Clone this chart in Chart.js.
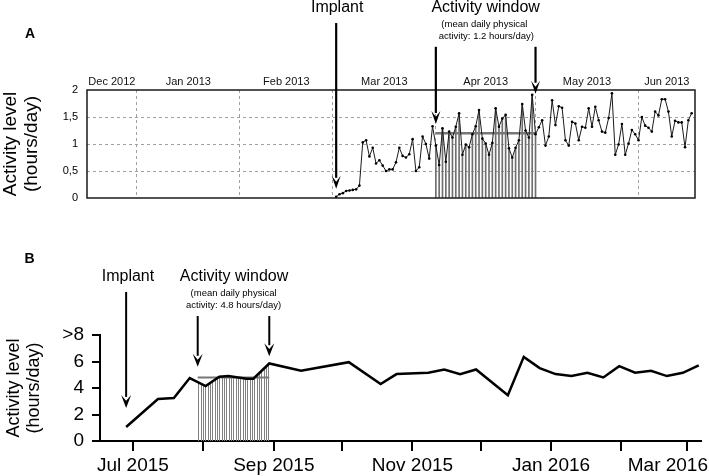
<!DOCTYPE html>
<html>
<head>
<meta charset="utf-8">
<script src="https://cdn.jsdelivr.net/npm/chart.js@4.4.1/dist/chart.umd.min.js"></script>
<style>
  html, body { margin: 0; padding: 0; background: #fff; }
  #wrap { position: relative; width: 709px; height: 476px; overflow: hidden; }
  canvas { position: absolute; left: 0; }
</style>
</head>
<body>
<div id="wrap">
  <canvas id="chartA" width="709" height="215" style="top:0"></canvas>
  <canvas id="chartB" width="709" height="261" style="top:215px"></canvas>
</div>
<script>
// ---------------- Panel A data (x = days from 1 Jan 2013) ----------------
const startDayA = 60;            // 2 Mar 2013 (implant)
const valuesA = [
  0.02, 0.07, 0.09, 0.13, 0.14, 0.15, 0.16, 0.23,
  1.03, 1.07, 0.77, 0.93, 0.64, 0.70, 0.60, 0.50, 0.53, 0.53,
  0.66, 0.93, 0.78, 0.75, 0.81, 1.09, 0.50, 0.57,
  1.14, 1.00, 0.73, 1.33,
  0.97, 0.61, 1.29, 0.67, 1.23, 1.12, 1.32, 1.57, 0.80, 0.99,
  0.94, 1.18, 1.33, 1.63, 1.10, 1.01, 0.80, 1.02, 1.66, 1.32,
  1.47, 1.54, 0.92, 0.75, 0.93, 1.07, 1.74, 1.25, 1.12, 1.91,
  1.18, 1.31, 1.44, 0.97, 1.14, 1.81, 1.35, 1.70, 1.67, 1.07,
  0.97, 1.41, 1.38, 1.07, 1.32, 1.30, 1.66, 1.32, 1.69, 1.44,
  1.23, 1.21, 1.48, 1.94, 0.80, 0.99, 1.37, 0.80, 1.01, 1.26,
  1.18, 1.07, 1.50, 1.34, 1.30, 1.23, 1.60, 1.53, 1.83, 1.83,
  1.60, 1.14, 1.43, 1.40, 1.40, 0.94, 1.44, 1.57
];
const windowA = [90, 120];       // 1 Apr - 1 May 2013
const meanA = 1.2;
const monthStartsA = [0, 31, 59, 90, 120, 151];
const monthLabelDaysA = [-7.5, 15.5, 45, 74.5, 105, 135.5, 159.5];
const monthLabelsA = ['Dec 2012', 'Jan 2013', 'Feb 2013', 'Mar 2013', 'Apr 2013', 'May 2013', 'Jun 2013'];
const yTicksA = [0, 0.5, 1, 1.5, 2];

// ---------------- Panel B data (x = days from 1 Jul 2015) ----------------
const daysB = [-3, 11, 18, 25, 32, 38, 42, 50, 53, 60, 74, 95, 109, 116, 130, 137, 144, 151,
               165, 172, 179, 186, 193, 200, 207, 214, 221, 228, 235, 242, 249];
const valuesB = [1.06, 3.17, 3.25, 4.75, 4.15, 4.85, 4.9, 4.7, 4.7, 5.85, 5.3, 5.95, 4.3, 5.05, 5.15, 5.4, 5.05, 5.4,
                 3.45, 6.35, 5.5, 5.05, 4.9, 5.15, 4.8, 5.65, 5.15, 5.3, 4.9, 5.15, 5.7];
const windowDaysB = [28.5, 32, 38, 42, 50, 53, 60];
const windowValuesB = [4.45, 4.15, 4.85, 4.9, 4.7, 4.7, 5.85];
const meanB = 4.8;
const monthStartsB = [0, 31, 62, 92, 123, 153, 184, 215, 244];
const monthLabelsB = ['Jul 2015', '', 'Sep 2015', '', 'Nov 2015', '', 'Jan 2016', '', 'Mar 2016'];

const FONT = "'Liberation Sans', Arial, Helvetica, sans-serif";
Chart.defaults.font.family = FONT;
Chart.defaults.color = '#000';
Chart.defaults.animation = false;

function drawArrow(ctx, x, y1, y2, hw, hl, lw) {
  ctx.save();
  ctx.strokeStyle = '#000';
  ctx.fillStyle = '#000';
  ctx.lineWidth = lw;
  ctx.beginPath();
  ctx.moveTo(x, y1);
  ctx.lineTo(x, y2 - hl + 2);
  ctx.stroke();
  ctx.beginPath();
  ctx.moveTo(x - hw / 2, y2 - hl);
  ctx.lineTo(x, y2 - hl * 0.55);
  ctx.lineTo(x + hw / 2, y2 - hl);
  ctx.lineTo(x, y2);
  ctx.closePath();
  ctx.fill();
  ctx.restore();
}
function drawText(ctx, txt, x, y, font) {
  ctx.save();
  ctx.font = font;
  ctx.fillStyle = '#000';
  ctx.textAlign = 'center';
  ctx.textBaseline = 'alphabetic';
  ctx.fillText(txt, x, y);
  ctx.restore();
}

// ---------------- Panel A ----------------
const lineDataA = valuesA.map((v, i) => ({ x: startDayA + i, y: v }));
const barDataA = lineDataA.filter(p => p.x >= windowA[0] && p.x <= windowA[1]);

const annotA = {
  id: 'annotA',
  afterDraw(chart) {
    const { ctx, chartArea: ca } = chart;
    const x = chart.scales.x, y = chart.scales.y;
    ctx.save();
    ctx.strokeStyle = '#1a1a1a';
    ctx.lineWidth = 1.5;
    ctx.strokeRect(ca.left, ca.top, ca.right - ca.left, ca.bottom - ca.top);
    ctx.restore();
    // arrows
    drawArrow(ctx, x.getPixelForValue(60), y.getPixelForValue(3.24), y.getPixelForValue(0.17), 9, 13, 2.2);
    drawArrow(ctx, x.getPixelForValue(windowA[0]), y.getPixelForValue(2.8), y.getPixelForValue(1.37), 9, 13, 2.2);
    drawArrow(ctx, x.getPixelForValue(windowA[1]), y.getPixelForValue(2.8), y.getPixelForValue(1.93), 9, 13, 2.2);
    // texts
    drawText(ctx, 'Implant', x.getPixelForValue(60.3), y.getPixelForValue(3.44), '16px ' + FONT);
    drawText(ctx, 'Activity window', x.getPixelForValue(105), y.getPixelForValue(3.44), '16px ' + FONT);
    drawText(ctx, '(mean daily physical', x.getPixelForValue(104.6), y.getPixelForValue(3.17), '9.5px ' + FONT);
    drawText(ctx, 'activity: 1.2 hours/day)', x.getPixelForValue(105.2), y.getPixelForValue(2.94), '9.5px ' + FONT);
    drawText(ctx, 'A', 30, 38, 'bold 14px ' + FONT);
  }
};

new Chart(document.getElementById('chartA'), {
  type: 'line',
  data: {
    datasets: [
      { type: 'line', data: lineDataA, borderColor: '#1a1a1a', borderWidth: 1, pointRadius: 1.3,
        pointBackgroundColor: '#000', pointBorderWidth: 0, tension: 0, order: 0 },
      { type: 'line', data: [{ x: windowA[0], y: meanA }, { x: windowA[1], y: meanA }],
        borderColor: '#777', borderWidth: 2.5, pointRadius: 0, order: 1 },
      { type: 'bar', data: barDataA, backgroundColor: '#6f6f6f', barThickness: 1, order: 2 }
    ]
  },
  options: {
    responsive: false,
    devicePixelRatio: 1,
    layout: { padding: { top: 0, right: 14, left: 0, bottom: 0 } },
    plugins: { legend: { display: false }, tooltip: { enabled: false } },
    scales: {
      x: {
        type: 'linear', position: 'bottom', min: -15, max: 168, offset: false,
        afterBuildTicks: s => { s.ticks = monthStartsA.map(v => ({ value: v })); },
        ticks: { display: false },
        grid: { color: '#a0a0a0', lineWidth: 1, drawTicks: false, offset: false },
        border: { display: false, dash: [3, 3] },
        afterFit: s => { s.height = 17; s.paddingLeft = 0; s.paddingRight = 0; }
      },
      x2: {
        type: 'linear', position: 'top', min: -15, max: 168, offset: false,
        afterBuildTicks: s => { s.ticks = monthLabelDaysA.map(v => ({ value: v })); },
        ticks: { callback: (v, i) => monthLabelsA[i], font: { size: 11 }, color: '#111', padding: 1,
                 maxRotation: 0, autoSkip: false },
        grid: { display: false, drawTicks: false, offset: false },
        border: { display: false },
        afterFit: s => { s.height = 90; s.paddingLeft = 0; s.paddingRight = 0; }
      },
      y: {
        type: 'linear', min: 0, max: 2,
        afterBuildTicks: s => { s.ticks = yTicksA.map(v => ({ value: v })); },
        ticks: { callback: v => String(v).replace('.', ','), font: { size: 11 }, padding: 9 },
        grid: { color: c => (c.tick && (c.tick.value === 0 || c.tick.value === 2)) ? 'rgba(0,0,0,0)' : '#a0a0a0',
                lineWidth: 1, drawTicks: false },
        border: { display: false, dash: [3, 3] },
        title: { display: true, text: ['Activity level', '(hours/day)'], font: { size: 19, lineHeight: 1.1 },
                 padding: { top: 0, bottom: 0 } },
        afterFit: s => { s.width = 87; }
      }
    }
  },
  plugins: [annotA]
});

// ---------------- Panel B ----------------
const canvasB = document.getElementById('chartB');
function stripePattern() {
  const c = document.createElement('canvas');
  c.width = 7; c.height = 4;
  const g = c.getContext('2d');
  g.fillStyle = '#808080';
  [0, 2, 5].forEach(px => g.fillRect(px, 0, 1, 4));
  return canvasB.getContext('2d').createPattern(c, 'repeat');
}
const lineDataB = daysB.map((d, i) => ({ x: d, y: valuesB[i] }));
const hatchDataB = windowDaysB.map((d, i) => ({ x: d, y: windowValuesB[i] }));

const annotB = {
  id: 'annotB',
  beforeDraw(chart) {
    const s = chart.scales.x;
    const items = s.getLabelItems();
    const last = items[items.length - 1];
    if (last) { last.options.textAlign = 'right'; last.options.translation[0] = chart.width - 1; }
  },
  afterDraw(chart) {
    const { ctx } = chart;
    const x = chart.scales.x, y = chart.scales.y;
    drawArrow(ctx, x.getPixelForValue(-3), y.getPixelForValue(11.25), y.getPixelForValue(2.5), 10, 13, 2);
    drawArrow(ctx, x.getPixelForValue(windowDaysB[0]), y.getPixelForValue(9.43), y.getPixelForValue(5.6), 10, 13, 2);
    drawArrow(ctx, x.getPixelForValue(windowDaysB[windowDaysB.length - 1]), y.getPixelForValue(9.43), y.getPixelForValue(6.4), 10, 13, 2);
    drawText(ctx, 'Implant', x.getPixelForValue(-2.2), y.getPixelForValue(12.08), '16px ' + FONT);
    drawText(ctx, 'Activity window', x.getPixelForValue(44.5), y.getPixelForValue(12.08), '16px ' + FONT);
    drawText(ctx, '(mean daily physical', x.getPixelForValue(44.3), y.getPixelForValue(10.94), '9.5px ' + FONT);
    drawText(ctx, 'activity: 4.8 hours/day)', x.getPixelForValue(44.3), y.getPixelForValue(10.04), '9.5px ' + FONT);
    drawText(ctx, 'B', 29.5, 48, 'bold 14px ' + FONT);
  }
};

new Chart(canvasB, {
  type: 'line',
  data: {
    datasets: [
      { data: lineDataB, borderColor: '#000', borderWidth: 2.5, pointRadius: 0, tension: 0, order: 0 },
      { data: [{ x: windowDaysB[0], y: meanB }, { x: windowDaysB[windowDaysB.length - 1], y: meanB }],
        borderColor: '#777', borderWidth: 2, pointRadius: 0, order: 1 },
      { data: hatchDataB, borderColor: 'rgba(0,0,0,0)', borderWidth: 1, pointRadius: 0, tension: 0,
        fill: 'origin', backgroundColor: stripePattern(), order: 2 }
    ]
  },
  options: {
    responsive: false,
    devicePixelRatio: 1,
    layout: { padding: { top: 120, right: 8, left: 0, bottom: 0 } },
    plugins: { legend: { display: false }, tooltip: { enabled: false } },
    scales: {
      x: {
        type: 'linear', min: -14.5, max: 250, offset: false,
        afterBuildTicks: s => { s.ticks = monthStartsB.map(v => ({ value: v })); },
        ticks: { callback: (v, i) => monthLabelsB[i], font: { size: 19 }, padding: 3,
                 maxRotation: 0, autoSkip: false },
        grid: { drawOnChartArea: false, drawTicks: true, tickLength: 10, color: '#000', lineWidth: 2, offset: false },
        border: { display: true, color: '#000', width: 2 },
        afterFit: s => { s.height = 35; s.paddingLeft = 0; s.paddingRight = 0; }
      },
      y: {
        type: 'linear', min: 0, max: 8,
        ticks: { stepSize: 2, callback: v => (v === 8 ? '>8' : String(v)), font: { size: 19 }, padding: 8 },
        grid: { drawOnChartArea: false, drawTicks: true, tickLength: 8, color: '#000', lineWidth: 2 },
        border: { display: true, color: '#000', width: 2 },
        title: { display: true, text: ['Activity level', '(hours/day)'], font: { size: 18, lineHeight: 1.12 },
                 padding: { top: 4, bottom: 0 } },
        afterFit: s => { s.width = 100; }
      }
    }
  },
  plugins: [annotB]
});
</script>
</body>
</html>
